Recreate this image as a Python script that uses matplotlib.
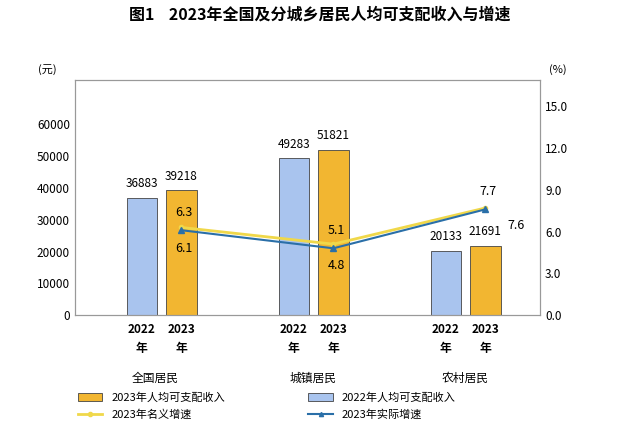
import matplotlib
matplotlib.use("Agg")
import matplotlib.pyplot as plt
from matplotlib.lines import Line2D
from matplotlib.patches import Patch

plt.rcParams["font.family"] = "Noto Sans CJK SC"

groups = ["全国居民", "城镇居民", "农村居民"]
inc2022 = [36883, 49283, 20133]
inc2023 = [39218, 51821, 21691]
nominal = [6.3, 5.1, 7.7]
real = [6.1, 4.8, 7.6]

blue = "#a9c4ee"
gold = "#f2b631"
yline = "#f0d84a"
bline = "#2a6fa8"

fig = plt.figure(figsize=(6.4, 4.37), dpi=100)
ax = fig.add_axes([0.117, 0.279, 0.727, 0.538])
ax2 = ax.twinx()
off, w = 0.13, 0.2
xs = list(range(3))
ax.bar([x - off for x in xs], inc2022, w, color=blue, edgecolor="#444", linewidth=0.6)
ax.bar([x + off for x in xs], inc2023, w, color=gold, edgecolor="#444", linewidth=0.6)
for x, a, b in zip(xs, inc2022, inc2023):
    ax.text(x - off, a + 2500, str(a), ha="center", va="bottom", fontsize=8.5)
    ax.text(x + off, b + 2500, str(b), ha="center", va="bottom", fontsize=8.5)
ax.set_xlim(-0.57, 2.49)
ax.set_ylim(0, 74000)
ax.set_yticks(range(0, 60001, 10000))
ax.set_xticks([x + s for x in xs for s in (-off, off)])
ax.set_xticklabels(["2022\n年", "2023\n年"] * 3, fontsize=8.5, fontweight="bold", linespacing=1.6)
ax.tick_params(axis="x", length=0, pad=6)
ax.tick_params(axis="y", labelsize=8.5, length=0)

lx = [x + off for x in xs]
ax2.plot(lx, nominal, color=yline, lw=2, marker="o", ms=3)
ax2.plot(lx, real, color=bline, lw=1.5, marker="^", ms=4)
ax2.set_ylim(0, 16.9)
ax2.set_yticks([0, 3, 6, 9, 12, 15])
ax2.set_yticklabels([f"{v:.1f}" for v in [0, 3, 6, 9, 12, 15]])
ax2.tick_params(axis="y", labelsize=8.5, length=0)
for x, n, dy in zip(lx, nominal, [0.8, 0.7, 0.9]):
    ax2.text(x + 0.02, n + dy, f"{n}", ha="center", fontsize=9)
for x, r, dy, dx in zip(lx, real, [-1.6, -1.5, -1.4], [0.02, 0.02, 0.2]):
    ax2.text(x + dx, r + dy, f"{r}", ha="center", fontsize=9)
for a in (ax, ax2):
    for s in a.spines.values():
        s.set_color("#999")
ax.text(-0.08, 1.03, "(元)", transform=ax.transAxes, fontsize=8)
ax.text(1.02, 1.03, "(%)", transform=ax.transAxes, fontsize=8)

fig.text(0.5, 0.955, "图1    2023年全国及分城乡居民人均可支配收入与增速", ha="center", fontsize=11.5, fontweight="bold")
for g, px in zip(groups, [155, 313, 465]):
    fig.text(px / 640, 1 - 378 / 437, g, ha="center", va="center", fontsize=8.5)
h1 = [Patch(facecolor=gold, edgecolor="#444", lw=0.6), Line2D([], [], color=yline, lw=2, marker="o", ms=3)]
h2 = [Patch(facecolor=blue, edgecolor="#444", lw=0.6), Line2D([], [], color=bline, lw=1.5, marker="^", ms=3)]
fig.legend(h1, ["2023年人均可支配收入", "2023年名义增速"], loc="upper left", bbox_to_anchor=(0.115, 0.112), frameon=False, fontsize=8, handlelength=2.2, labelspacing=0.6, borderaxespad=0)
fig.legend(h2, ["2022年人均可支配收入", "2023年实际增速"], loc="upper left", bbox_to_anchor=(0.475, 0.112), frameon=False, fontsize=8, handlelength=2.2, labelspacing=0.6, borderaxespad=0)
fig.savefig("out.png")
